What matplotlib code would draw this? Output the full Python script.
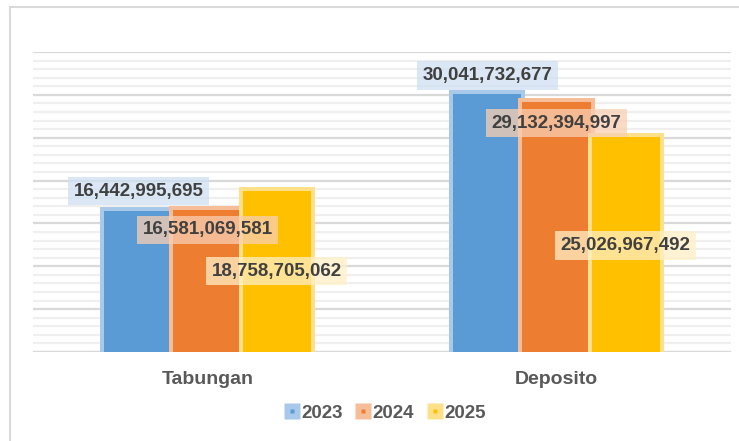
import numpy as np
import matplotlib.pyplot as plt
from matplotlib.lines import Line2D
from matplotlib.patches import Rectangle
from matplotlib.legend_handler import HandlerTuple
from matplotlib.ticker import MultipleLocator

plt.rcParams['font.family'] = ['Liberation Sans', 'DejaVu Sans']

categories = ["Tabungan", "Deposito"]
years = ["2023", "2024", "2025"]
values = {
    "2023": [16442995695, 30041732677],
    "2024": [16581069581, 29132394997],
    "2025": [18758705062, 25026967492],
}

colors = ["#5b9bd5", "#ed7d31", "#ffc000"]
glow = ["#a9c9ea", "#f6be98", "#ffe08a"]
label_bg = ["#cfe0f2", "#f8cfb3", "#fff0c6"]
# label offsets from bar top (pixels, positive = downward)
label_off = {
    "2023": [-20, -19],
    "2024": [20, 21],
    "2025": [80, 108],
}

W, H = 739, 441
fig = plt.figure(figsize=(W / 100, H / 100), dpi=100)
fig.patches.append(Rectangle((10 / W, -0.1), 1.2, 1.1 - 7 / H, transform=fig.transFigure,
                             facecolor="white", edgecolor="#d9d9d9", linewidth=1.5,
                             zorder=-10))
ax = fig.add_axes([33 / W, 1 - 352 / H, (731 - 33) / W, (352 - 52) / H])
ax.set_facecolor("none")

x = np.arange(len(categories))
bw = 0.198
scale = 1e9
ax.set_ylim(0, 35)
ax.set_xlim(-0.5, 1.5)
ax.yaxis.set_major_locator(MultipleLocator(5))
ax.yaxis.set_minor_locator(MultipleLocator(1))
ax.grid(True, which="major", axis="y", color="#d9d9d9", linewidth=1.6, zorder=0)
ax.grid(True, which="minor", axis="y", color="#efefef", linewidth=1.6, zorder=0)
ax.tick_params(axis="y", which="both", left=False, labelleft=False)
ax.tick_params(axis="x", length=0, pad=14)
for s in ax.spines.values():
    s.set_visible(False)
ax.axhline(0, color="#d9d9d9", linewidth=1.6, zorder=1)

# pixels -> data units
pxy = 35 / (352 - 52)
pxx = 2 / (731 - 33)

for i, yr in enumerate(years):
    pos = x + (i - 1) * bw
    v = np.array(values[yr]) / scale
    ax.bar(pos, v + 4 * pxy, width=bw + 7 * pxx, color=glow[i], zorder=2 + i * 2)
    ax.bar(pos, v, width=bw - 1 * pxx, color=colors[i], zorder=3 + i * 2)

for i, yr in enumerate(years):
    pos = x + (i - 1) * bw
    for j, val in enumerate(values[yr]):
        ax.text(pos[j], val / scale - label_off[yr][j] * pxy, f"{val:,}",
                ha="center", va="center", fontsize=13.5, fontweight="bold", color="#404040",
                zorder=20,
                bbox=dict(boxstyle="square,pad=0.3", facecolor=label_bg[i], alpha=0.75,
                          edgecolor="none"))

ax.set_xticks(x)
ax.set_xticklabels(categories, fontsize=14, fontweight="bold", color="#595959")

handles = []
for i in range(3):
    big = Line2D([], [], linestyle="none", marker="s", markersize=11,
                 markerfacecolor=glow[i], markeredgecolor="none")
    small = Line2D([], [], linestyle="none", marker="s", markersize=3.5,
                   markerfacecolor=colors[i], markeredgecolor="none")
    handles.append((big, small))
leg = fig.legend(handles, years, loc="center", bbox_to_anchor=(385 / W, 1 - 413 / H), ncol=3,
                 frameon=False, handler_map={tuple: HandlerTuple(ndivide=1)},
                 handlelength=0.8, handletextpad=0.1, columnspacing=0.7,
                 prop={"size": 13.5, "weight": "bold"})
for t in leg.get_texts():
    t.set_color("#595959")

fig.savefig("out.png", dpi=100)
